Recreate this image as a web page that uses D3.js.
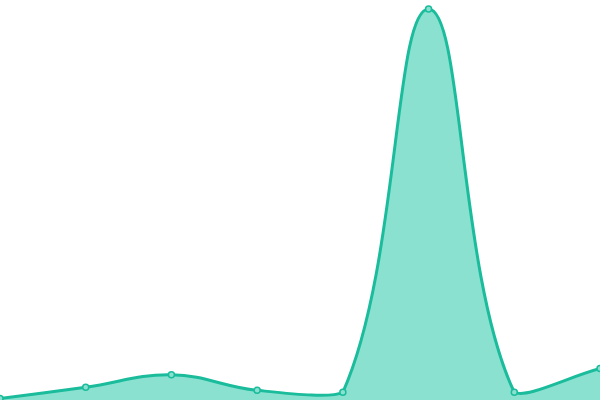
<!DOCTYPE html>
<html><head><meta charset="utf-8">
<script src="https://cdn.jsdelivr.net/npm/d3@7"></script>
<style>html,body{margin:0;padding:0;background:#fff;}svg{display:block;}</style>
</head><body>
<svg id="chart" width="600" height="400"></svg>
<script>
const categories = ["A","B","C","D","E","F","G","H"];
const values = [0, 2.9, 6.1, 2.1, 1.6, 100, 1.6, 7.7];
const yDomain = [0, 100];

const W = 600, H = 400;
const plotBottom = 398.5, plotTop = 9;
const svg = d3.select("#chart");
const x = d3.scalePoint().domain(categories).range([0, W]);
const y = d3.scaleLinear().domain(yDomain).range([plotBottom, plotTop]);
const data = categories.map((c, i) => ({c, v: values[i]}));

// Spline curve (tension-based, control points capped to the plot box)
function splineCurve(tension, box) {
  function Curve(ctx) { this._context = ctx; }
  Curve.prototype = {
    areaStart() { this._line = 0; },
    areaEnd() { this._line = NaN; },
    lineStart() { this._pts = []; },
    point(px, py) { this._pts.push([+px, +py]); },
    lineEnd() {
      const p = this._pts, n = p.length, c = this._context;
      if (!n) return;
      if (this._line === 1) {
        // baseline of an area: straight segments
        p.forEach(q => c.lineTo(q[0], q[1]));
        c.closePath();
        this._line = 0;
        return;
      }
      c.moveTo(p[0][0], p[0][1]);
      const cap = (v, lo, hi) => Math.max(lo, Math.min(hi, v));
      const cps = p.map((cur, i) => {
        const prev = p[i - 1] || cur, next = p[i + 1] || cur;
        const d01 = Math.hypot(cur[0] - prev[0], cur[1] - prev[1]);
        const d12 = Math.hypot(next[0] - cur[0], next[1] - cur[1]);
        let s01 = d01 / (d01 + d12), s12 = d12 / (d01 + d12);
        if (!isFinite(s01)) s01 = 0; if (!isFinite(s12)) s12 = 0;
        const fa = tension * s01, fb = tension * s12;
        return {
          px: cap(cur[0] - fa * (next[0] - prev[0]), box.x0, box.x1),
          py: cap(cur[1] - fa * (next[1] - prev[1]), box.y0, box.y1),
          nx: cap(cur[0] + fb * (next[0] - prev[0]), box.x0, box.x1),
          ny: cap(cur[1] + fb * (next[1] - prev[1]), box.y0, box.y1)
        };
      });
      for (let i = 0; i < n - 1; i++) {
        c.bezierCurveTo(cps[i].nx, cps[i].ny, cps[i + 1].px, cps[i + 1].py, p[i + 1][0], p[i + 1][1]);
      }
      if (this._line === 0) this._line = 1;
    }
  };
  return ctx => new Curve(ctx);
}
const box = {x0: 0, x1: W, y0: 0, y1: plotBottom};
const curve = splineCurve(0.4, box);
const area = d3.area().x(d => x(d.c)).y0(H).y1(d => y(d.v)).curve(curve);
const line = d3.line().x(d => x(d.c)).y(d => y(d.v)).curve(curve);

svg.append("path").datum(data).attr("d", area).attr("fill", "#8ae1d0");
svg.append("path").datum(data).attr("d", line).attr("fill", "none")
  .attr("stroke", "#1abc9c").attr("stroke-width", 3);
svg.selectAll("circle").data(data).join("circle")
  .attr("cx", d => x(d.c)).attr("cy", d => y(d.v)).attr("r", 3)
  .attr("fill", "#8ae1d0").attr("stroke", "#1abc9c").attr("stroke-width", 1.5);
</script>
</body></html>
